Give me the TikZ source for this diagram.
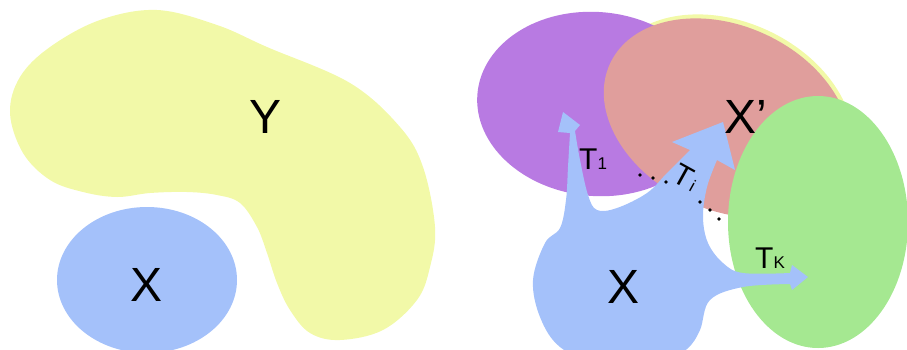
\documentclass[tikz,border=0pt]{standalone}
\usepackage{fontspec}
\setmainfont{Liberation Sans}
\definecolor{cyel}{HTML}{F2F9A8}
\definecolor{cblue}{HTML}{A4C1FA}
\definecolor{cpur}{HTML}{B87AE2}
\definecolor{cred}{HTML}{E09E9C}
\definecolor{cgre}{HTML}{A5E891}
\tikzset{
  biglabel/.style={font=\fontsize{48}{48}\selectfont, inner sep=0pt},
  tlabel/.style={font=\fontsize{30}{30}\selectfont, inner sep=0pt},
  dotmark/.style={fill=black}
}
\newcommand{\subsm}[1]{{\fontsize{17}{17}\selectfont #1}}
\begin{document}
\begin{tikzpicture}[x=1pt,y=-1pt]
\useasboundingbox (0,0) rectangle (907,349);
\begin{scope}
\clip (0,0) rectangle (907,349);
% left panel
\fill[cyel] plot[smooth cycle, tension=0.6] coordinates {
 (157,10) (217,25) (267,47) (350,83) (400,127) (423,167) (435,227) (430,267)
 (417,300) (383,330) (340,340) (310,333) (290,310) (277,283) (267,253)
 (257,227) (240,203) (217,195) (187,192) (150,193) (117,197) (83,192)
 (50,180) (23,153) (10,113) (20,77) (50,47) (100,20)};
\fill[cblue] (147,280) ellipse [x radius=90, y radius=73];
\node[biglabel] (Y) at (266,117) {Y};
\node[biglabel] (X) at (147,285) {X};
% right panel
\fill[cyel, rotate around={-25:(729,115)}] (729,115) ellipse [x radius=130, y radius=93];
\fill[cpur, rotate around={-5:(596,104)}] (596,104) ellipse [x radius=119, y radius=92];
\fill[cred, rotate around={-25:(727,118)}] (727,118) ellipse [x radius=129, y radius=92];
\fill[cgre] (818,222) ellipse [x radius=90, y radius=126];
\fill[cblue] (563,112) -- (580,125) -- (575,131)
  -- plot[smooth, tension=0.6] coordinates {(575,131) (580,160) (588,195) (597,210) (617,208) (647,193) (667,173) (690,150)}
  -- (672,142) -- (723,122) -- (735,170) -- (717,160)
  -- plot[smooth, tension=0.6] coordinates {(717,160) (707,187) (703,217) (708,243) (723,263) (743,273) (790,273)}
  -- (792,265) -- (808,277) -- (792,290) -- (790,284)
  -- plot[smooth, tension=0.6] coordinates {(790,284) (743,287) (710,300) (700,330) (687,349) (660,365) (600,365) (560,347) (540,317) (533,280) (545,243) (560,228) (566,200) (568,167) (570,133)}
  -- (558,132) -- cycle;
\end{scope}
\node[biglabel] (Xp) at (746,117) {X’};
\node[biglabel] (X2) at (623,287) {X};
\node[tlabel, anchor=base west] (T1) at (579,169) {T\subsm{1}};
\node[tlabel, anchor=base west] (Tk) at (755,268) {T\subsm{K}};
\node[tlabel, rotate=-29] (Ti) at (686,177) {T\kern2pt\subsm{i}};
\foreach \p in {(640,175),(653,178),(666,182),(700,202),(710,210),(719,219)}
  \fill[dotmark] \p circle [radius=1.9];
\end{tikzpicture}
\end{document}
